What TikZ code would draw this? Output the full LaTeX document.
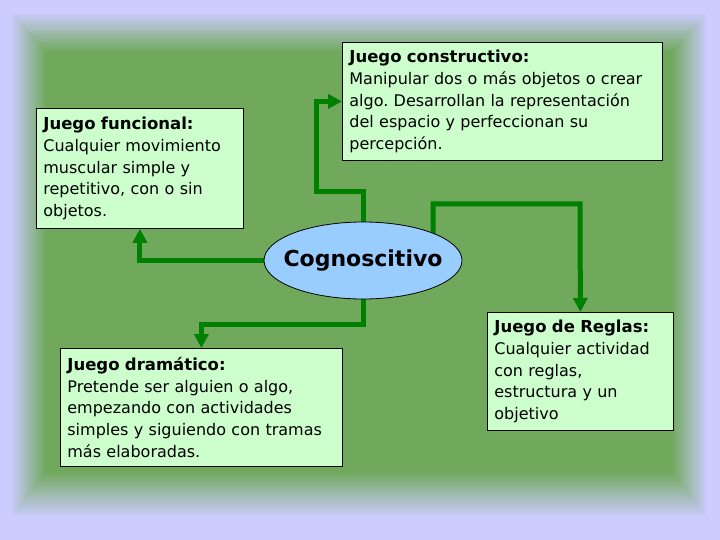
\documentclass[tikz,border=0pt]{standalone}
\usepackage{fontspec}
\setmainfont{DejaVu Sans}
\usetikzlibrary{arrows.meta,shapes.geometric}
\definecolor{bglav}{RGB}{204,204,255}
\definecolor{panelgreen}{RGB}{112,168,92}
\definecolor{boxfill}{RGB}{204,255,204}
\definecolor{linegreen}{RGB}{0,128,0}
\definecolor{ellfill}{RGB}{153,204,255}
\pgfdeclarelayer{bg}
\pgfdeclarelayer{lines}
\pgfsetlayers{bg,lines,main}
\frenchspacing
\newcommand{\boxtitle}[1]{{\fontsize{16.5}{21.7}\selectfont\bfseries #1}}
\begin{document}
\begin{tikzpicture}[x=1pt,y=-1pt,
  infobox/.style={draw=black, line width=0.8pt, fill=boxfill, anchor=north west,
    align=left, inner xsep=7pt, inner ysep=0pt,
    font=\fontsize{16}{21.7}\selectfont},
  conn/.style={draw=linegreen, line width=5pt,
    -{Triangle[length=14pt,width=14pt]}}]
\useasboundingbox (0,0) rectangle (720,540);
\begin{pgfonlayer}{bg}
  \fill[bglav] (0,0) rectangle (720,540);
  \foreach \i in {1,...,36}{
    \pgfmathsetmacro\t{\i/36}
    \pgfmathsetmacro\p{100*\i/36}
    \fill[panelgreen!\p!bglav] (10+36*\t,12+40*\t) rectangle (708-36*\t,518-46*\t);
  }
\end{pgfonlayer}

\node[infobox, text width=306pt, minimum height=118pt] (constr) at (342,42)
  {\boxtitle{Juego constructivo:}\\Manipular dos o más objetos o crear\\algo. Desarrollan la representación\\del espacio y perfeccionan su\\percepción.};
\node[infobox, text width=193pt, minimum height=120pt] (func) at (36,108)
  {\boxtitle{Juego funcional:}\\Cualquier movimiento\\muscular simple y\\repetitivo, con o sin\\objetos.};
\node[infobox, text width=268pt, minimum height=118pt] (drama) at (60,348)
  {\boxtitle{Juego dramático:}\\Pretende ser alguien o algo,\\empezando con actividades\\simples y siguiendo con tramas\\más elaboradas.};
\node[infobox, text width=172pt, minimum height=118pt] (reglas) at (487,312)
  {\boxtitle{Juego de Reglas:}\\Cualquier actividad\\con reglas,\\estructura y un\\objetivo};
\node[ellipse, draw=black, line width=0.8pt, fill=ellfill, minimum width=198pt,
  minimum height=77pt, inner sep=0pt, font=\fontsize{22}{26}\selectfont\bfseries]
  (cog) at (363,260.5) {\makebox[0pt]{Cognoscitivo}};

\coordinate (c1a) at (363,192);
\coordinate (c1b) at (316,192);
\coordinate (c2s) at (433,250);
\coordinate (c2) at (580,204);
\coordinate (c4) at (363,324);
\begin{pgfonlayer}{lines}
  \draw[conn] (cog.center) -- (c1a) -- (c1b) |- (constr.west);
  \draw[conn] (c2s) |- (c2) -- (reglas.north);
  \draw[conn] (cog.center) -| (func.south);
  \draw[conn] (cog.center) -- (c4) -| (drama.north);
\end{pgfonlayer}
\end{tikzpicture}
\end{document}
